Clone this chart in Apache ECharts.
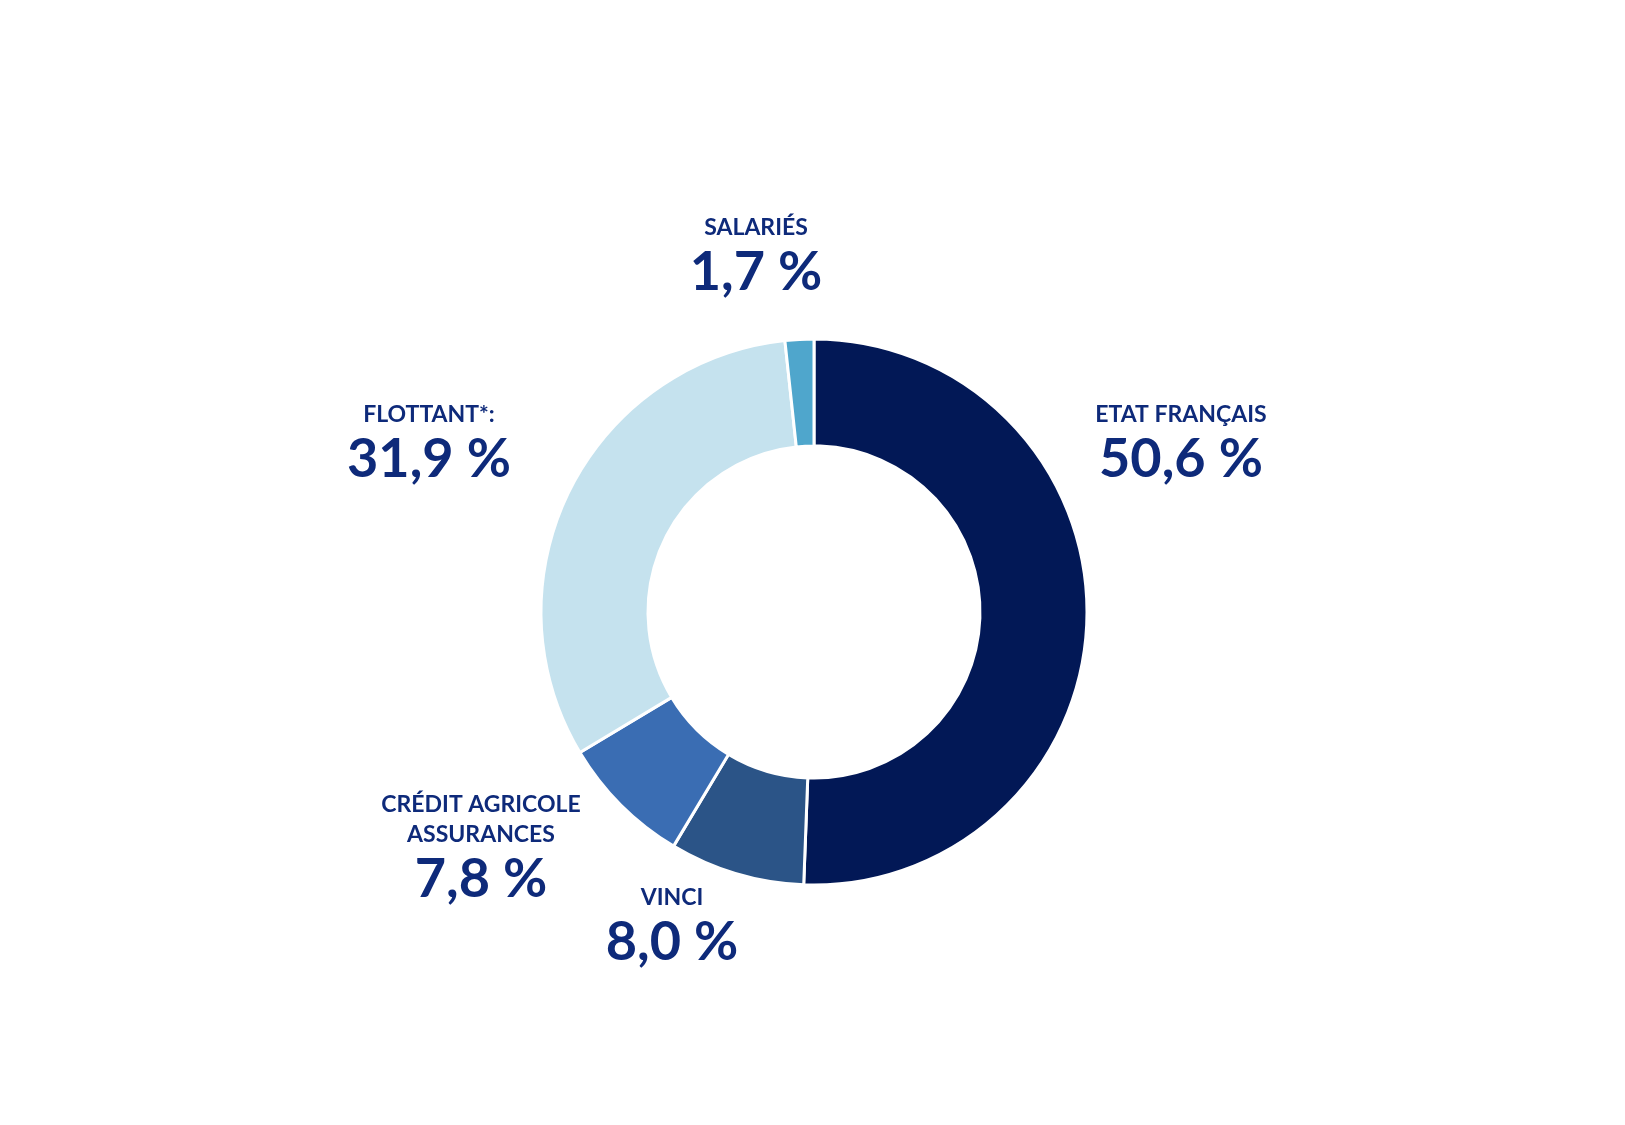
<!DOCTYPE html>
<html><head><meta charset="utf-8">
<script src="https://cdn.jsdelivr.net/npm/echarts@6/dist/echarts.min.js"></script>
<style>html,body{margin:0;background:#fff}#c{width:1625px;height:1125px}</style>
</head><body><div id="c"></div>
<script>
const categories = ['ETAT FRANÇAIS','VINCI','CRÉDIT AGRICOLE\nASSURANCES','FLOTTANT*:','SALARIÉS'];
const values = [50.6, 8.0, 7.8, 31.9, 1.7];
const valueLabels = ['50,6 %','8,0 %','7,8 %','31,9 %','1,7 %'];
const colors = ['#021856','#2B5487','#3A6DB3','#C5E2EE','#4FA6CC'];
const labelPos = [[1181,445],[672,928],[481,850],[429,445],[756,258]];
const chart = echarts.init(document.getElementById('c'));
chart.setOption({
  animation:false,
  series:[{
    type:'pie', center:[814,612], radius:[166,273], startAngle:90, clockwise:true,
    itemStyle:{borderColor:'#fff',borderWidth:3},
    data: categories.map((n,i)=>({name:n,value:values[i],itemStyle:{color:colors[i]}})),
    label:{show:true, position:'outside', align:'center', color:'#0E2A7A', fontFamily:'Lato',
      formatter:p=>'{n|'+p.name.split('\n').join('}\n{n|')+'}\n{v|'+valueLabels[p.dataIndex]+'}',
      rich:{n:{fontSize:23,fontWeight:'bold',lineHeight:30,color:'#0E2A7A',fontFamily:'Lato',align:'center'},
            v:{fontSize:54,fontWeight:'bold',lineHeight:60,color:'#0E2A7A',fontFamily:'Lato',align:'center'}}},
    labelLine:{show:false},
    labelLayout:p=>({x:labelPos[p.dataIndex][0], y:labelPos[p.dataIndex][1], align:'center', verticalAlign:'middle'})
  }]
});
</script></body></html>
